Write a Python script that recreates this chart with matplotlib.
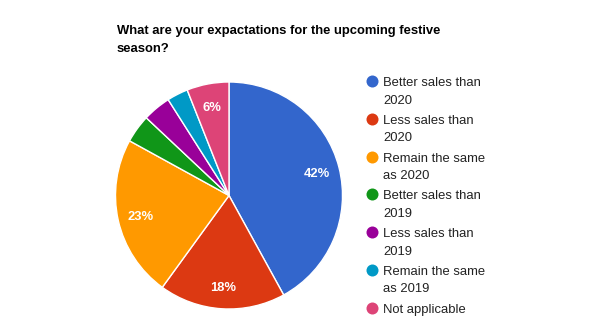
import matplotlib
matplotlib.use("Agg")
import matplotlib.pyplot as plt

plt.rcParams['font.family'] = ['Liberation Sans', 'DejaVu Sans']

title_lines = ["What are your expactations for the upcoming festive", "season?"]
categories = [
    ["Better sales than", "2020"],
    ["Less sales than", "2020"],
    ["Remain the same", "as 2020"],
    ["Better sales than", "2019"],
    ["Less sales than", "2019"],
    ["Remain the same", "as 2019"],
    ["Not applicable"],
]
shares = [42, 18, 23, 4, 4, 3, 6]
colors = ["#3366cc", "#dc3912", "#ff9900", "#109618", "#990099", "#0099c6", "#dd4477"]

W, H = 600, 336
fig = plt.figure(figsize=(W / 100, H / 100), dpi=100)

def px(v):
    return v * 0.72  # pixels -> points at 100 dpi

# Pie centred at (229, 195.5) px with radius 113.5 px
cx, cy, r = 229, 195.5, 113.5
ax = fig.add_axes([(cx - r) / W, (H - cy - r) / H, 2 * r / W, 2 * r / H])
wedges, _, autotexts = ax.pie(
    shares, colors=colors, startangle=90, counterclock=False,
    autopct=lambda p: f"{p:.0f}%" if p >= 5 else "", pctdistance=0.80,
    wedgeprops=dict(edgecolor="white", linewidth=1.0),
    textprops=dict(color="white", fontsize=px(13), fontweight="bold"),
)
for t in autotexts:
    t.set_va("center_baseline")
ax.set_xlim(-1, 1)
ax.set_ylim(-1, 1)
ax.set_aspect("equal")
ax.axis("off")

# Overlay axes in pixel coordinates for title and legend
ov = fig.add_axes([0, 0, 1, 1])
ov.set_xlim(0, W)
ov.set_ylim(H, 0)
ov.axis("off")

for i, line in enumerate(title_lines):
    ov.text(117, 34 + 18 * i, line, fontsize=px(13), fontweight="bold",
            color="black", va="baseline", ha="left")

for i, (lines, col) in enumerate(zip(categories, colors)):
    base = 86 + 37.8 * i
    ov.plot([372], [base - 5], marker="o", markersize=px(12), color=col,
            markeredgewidth=0, linestyle="none")
    for j, line in enumerate(lines):
        ov.text(383, base + 17.5 * j, line, fontsize=px(13), color="#222222",
                va="baseline", ha="left")

fig.savefig("out.png", dpi=100, facecolor="white")
